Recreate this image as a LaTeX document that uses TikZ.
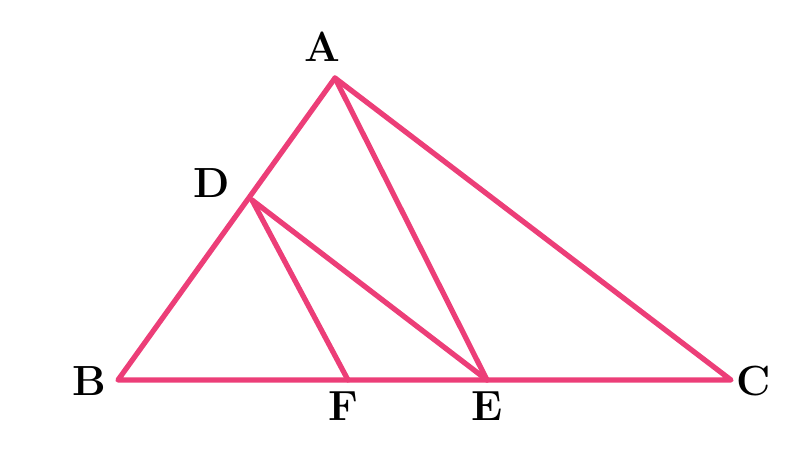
\documentclass[tikz,border=0pt]{standalone}
\usepackage{xcolor}
\usepackage{tikz}
\usetikzlibrary{positioning,calc}
\definecolor{segpink}{RGB}{236,62,120}

\begin{document}
\begin{tikzpicture}[x=0.02cm,y=-0.02cm,
        lab/.style={font=\fontsize{24}{28}\selectfont\bfseries, inner sep=1pt},
        seg/.style={draw=segpink, line width=3pt, line cap=round, line join=round}
      ]
        \useasboundingbox (0,0) rectangle (802,458);
        % vertices
        \coordinate (A) at (335,78);
        \coordinate (B) at (118,380);
        \coordinate (C) at (731,380);
        \coordinate (D) at (252,200);
        \coordinate (E) at (487,380);
        \coordinate (F) at (348,380);
        % triangle and inner segments
        \draw[seg] (A) -- (B) -- (C) -- cycle;
        \draw[seg] (A) -- (E);
        \draw[seg] (D) -- (E);
        \draw[seg] (D) -- (F);
        % labels
        \node[lab] (lA) at (322,47) {A};
        \node[lab] (lB) at (89,381) {B};
        \node[lab] (lC) at (754,381) {C};
        \node[lab] (lD) at (212,183) {D};
        \node[lab] (lE) at (487,406) {E};
        \node[lab] (lF) at (343,406) {F};
      \end{tikzpicture}
\end{document}
